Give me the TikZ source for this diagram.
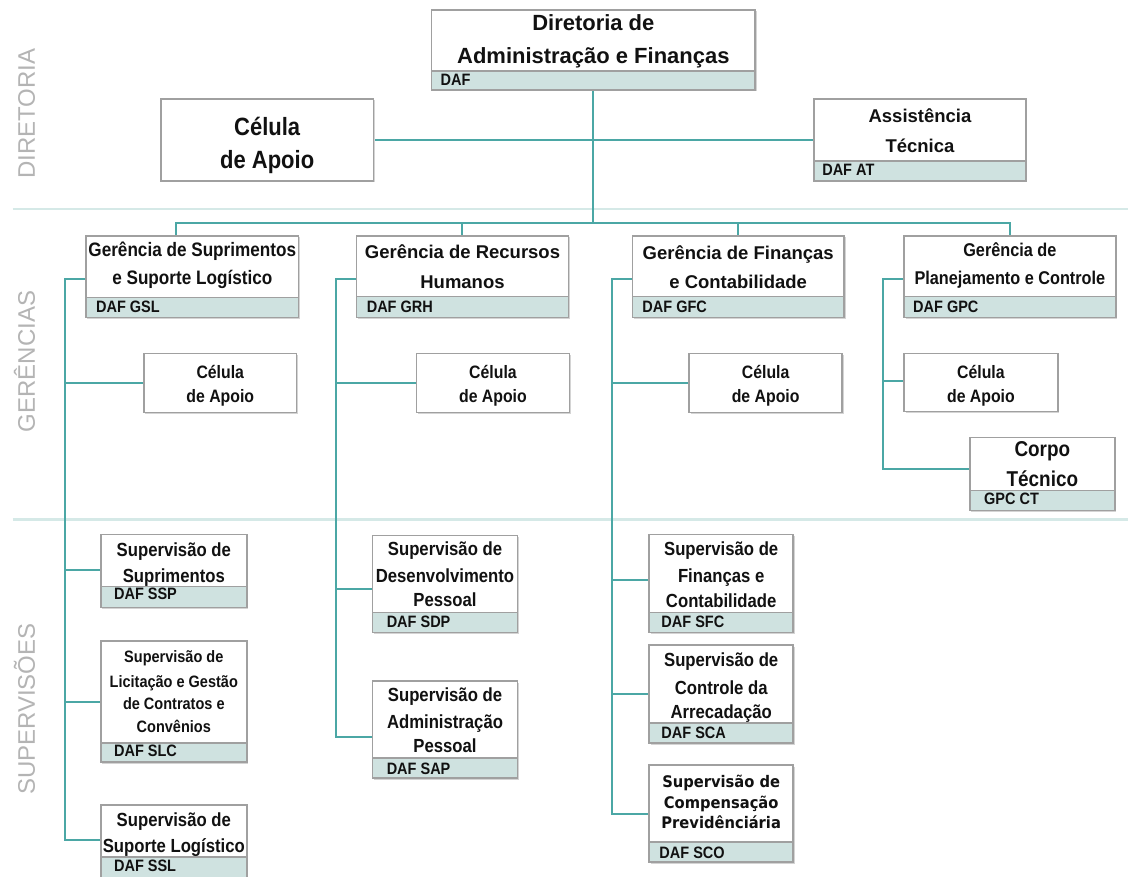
\documentclass[tikz,border=0pt]{standalone}
\usepackage{fontspec}
\setmainfont{Liberation Sans}
\newfontfamily\narfam{Liberation Sans}[FakeStretch=0.88]
\newfontfamily\dvfam{DejaVu Sans}[FakeStretch=0.92]
\usetikzlibrary{calc}
\pgfdeclarelayer{back}
\pgfdeclarelayer{connlayer}
\pgfsetlayers{back,connlayer,main}
\definecolor{conncol}{HTML}{4BA7A5}
\definecolor{divcol}{HTML}{D5E9E7}
\definecolor{bandcol}{HTML}{CFE2E0}
\definecolor{bordcol}{HTML}{A0A0A0}
\definecolor{shadcol}{HTML}{D4D4D4}
\definecolor{sidecol}{HTML}{B4B4B4}
\definecolor{txtcol}{HTML}{111111}
\newcommand\fTitle{\fontsize{22}{26}\selectfont\bfseries}
\newcommand\fNorm{\fontsize{18.5}{22}\selectfont\bfseries}
\newcommand\fNar[1]{\narfam\fontsize{#1}{#1}\selectfont\bfseries}
\newcommand\fDv{\dvfam\fontsize{16}{16}\selectfont\bfseries}
\tikzset{
  conn/.style={draw=conncol, line width=2pt},
  divst/.style={draw=divcol, line width=2.5pt},
  boxst/.style={fill=white, draw=none, inner sep=0pt, outer sep=0pt},
  bordline/.style={draw=bordcol, line width=1.6pt},
  codest/.style={anchor=base west, inner sep=0pt, text=txtcol, font=\fNar{16.5}},
  txt/.style={anchor=base, inner sep=0pt, text=txtcol},
  side/.style={text=sidecol, font=\fontsize{24}{24}\selectfont, inner sep=0pt}
}
\newcommand\obox[5]{%
  \fill[shadcol] (#2+1.5,#3+1.5) rectangle (#4+1.5,#5+1.5);
  \node[boxst, anchor=north west, minimum width={(#4-#2)*1pt}, minimum height={(#5-#3)*1pt}] (#1) at (#2,#3) {};}
\newcommand\oband[6]{%
  \fill[bandcol] (#1.west |- 0,#2) rectangle (#1.south east);
  \draw[bordline] (#1.west |- 0,#2) -- (#1.east |- 0,#2);
  \node[codest] (#3) at (#4,#5) {#6};}
\newcommand\oframe[1]{\draw[bordline] (#1.north west) rectangle (#1.south east);}
\newcommand\tline[5]{\node[txt, font=#4] (#1) at (#2,#3) {#5};}
\begin{document}
\begin{tikzpicture}[x=1pt, y=-1pt]
\begin{pgfonlayer}{back}
\fill[white] (0,0) rectangle (1129,877);
% section dividers
\draw[divst] (13,209) -- (1129,209);
\draw[divst] (13,520) -- (1129,520);
\end{pgfonlayer}
\useasboundingbox (0,0) rectangle (1129,877);

% side labels
\node[side, rotate=90, anchor=base] (lblD) at (35,114) {DIRETORIA};
\node[side, rotate=90, anchor=base] (lblG) at (35,362) {GERÊNCIAS};
\node[side, rotate=90, anchor=base] (lblS) at (35,710) {SUPERVISÕES};

% ---------- boxes ----------
\obox{daf}{432}{10}{756}{90}
\oband{daf}{71}{dafc}{441}{86}{DAF}
\tline{daf1}{594}{31}{\fTitle}{Diretoria de}
\tline{daf2}{594}{64}{\fTitle}{Administração e Finanças}
\oframe{daf}

\obox{celtop}{161}{99}{374}{181}
\tline{celtop1}{267.5}{136}{\fNar{25}}{Célula}
\tline{celtop2}{267.5}{169}{\fNar{25}}{de Apoio}
\oframe{celtop}

\obox{at}{815}{99}{1027}{181}
\oband{at}{161}{atc}{823}{176}{DAF AT}
\tline{at1}{921}{123}{\fNorm}{Assistência}
\tline{at2}{921}{153}{\fNorm}{Técnica}
\oframe{at}

\obox{gsl}{86}{236}{299}{318}
\oband{gsl}{298}{gslc}{96}{313}{DAF GSL}
\tline{gsl1}{192.5}{257}{\fNar{19.5}}{Gerência de Suprimentos}
\tline{gsl2}{192.5}{285}{\fNar{19.5}}{e Suporte Logístico}
\oframe{gsl}

\obox{grh}{357}{236}{569}{318}
\oband{grh}{297}{grhc}{367}{313}{DAF GRH}
\tline{grh1}{463}{259}{\fNorm}{Gerência de Recursos}
\tline{grh2}{463}{289}{\fNorm}{Humanos}
\oframe{grh}

\obox{gfc}{633}{236}{845}{318}
\oband{gfc}{297}{gfcc}{643}{313}{DAF GFC}
\tline{gfc1}{739}{260}{\fNorm}{Gerência de Finanças}
\tline{gfc2}{739}{289}{\fNorm}{e Contabilidade}
\oframe{gfc}

\obox{gpc}{905}{236}{1117}{318}
\oband{gpc}{297}{gpcc}{914}{313}{DAF GPC}
\tline{gpc1}{1011}{257}{\fNar{18.5}}{Gerência de}
\tline{gpc2}{1011}{285}{\fNar{18.5}}{Planejamento e Controle}
\oframe{gpc}

\obox{gslcel}{144}{354}{297}{413}
\tline{gslcel1}{220.5}{379}{\fNar{18}}{Célula}
\tline{gslcel2}{220.5}{403}{\fNar{18}}{de Apoio}
\oframe{gslcel}

\obox{grhcel}{417}{354}{570}{413}
\tline{grhcel1}{493.5}{379}{\fNar{18}}{Célula}
\tline{grhcel2}{493.5}{403}{\fNar{18}}{de Apoio}
\oframe{grhcel}

\obox{gfccel}{690}{354}{843}{413}
\tline{gfccel1}{766.5}{379}{\fNar{18}}{Célula}
\tline{gfccel2}{766.5}{403}{\fNar{18}}{de Apoio}
\oframe{gfccel}

\obox{gpccel}{905}{354}{1059}{412}
\tline{gpccel1}{982}{379}{\fNar{18}}{Célula}
\tline{gpccel2}{982}{403}{\fNar{18}}{de Apoio}
\oframe{gpccel}

\obox{corpo}{971}{438}{1116}{511}
\oband{corpo}{491}{corpoc}{985}{505}{GPC CT}
\tline{corpo1}{1043.5}{457}{\fNar{21.5}}{Corpo}
\tline{corpo2}{1043.5}{487}{\fNar{21.5}}{Técnico}
\oframe{corpo}

\obox{ssp}{101}{535}{247}{608}
\oband{ssp}{587}{sspc}{114}{600}{DAF SSP}
\tline{ssp1}{174}{557}{\fNar{19}}{Supervisão de}
\tline{ssp2}{174}{583}{\fNar{19}}{Suprimentos}
\oframe{ssp}

\obox{slc}{101}{642}{247}{763}
\oband{slc}{744}{slcc}{114}{757}{DAF SLC}
\tline{slc1}{174}{663}{\fNar{16.5}}{Supervisão de}
\tline{slc2}{174}{688}{\fNar{16.5}}{Licitação e Gestão}
\tline{slc3}{174}{710}{\fNar{16.5}}{de Contratos e}
\tline{slc4}{174}{733}{\fNar{16.5}}{Convênios}
\oframe{slc}

\obox{ssl}{101}{806}{247}{880}
\oband{ssl}{858}{sslc}{114}{872}{DAF SSL}
\tline{ssl1}{174}{827}{\fNar{19}}{Supervisão de}
\tline{ssl2}{174}{853}{\fNar{19}}{Suporte Logístico}
\oframe{ssl}

\obox{sdp}{373}{536}{518}{633}
\oband{sdp}{613}{sdpc}{387}{628}{DAF SDP}
\tline{sdp1}{445.5}{556}{\fNar{19}}{Supervisão de}
\tline{sdp2}{445.5}{583}{\fNar{19}}{Desenvolvimento}
\tline{sdp3}{445.5}{607}{\fNar{19}}{Pessoal}
\oframe{sdp}

\obox{sap}{373}{682}{518}{779}
\oband{sap}{759}{sapc}{387}{775}{DAF SAP}
\tline{sap1}{445.5}{702}{\fNar{19}}{Supervisão de}
\tline{sap2}{445.5}{729}{\fNar{19}}{Administração}
\tline{sap3}{445.5}{753}{\fNar{19}}{Pessoal}
\oframe{sap}

\obox{sfc}{650}{535}{794}{633}
\oband{sfc}{613}{sfcc}{662}{628}{DAF SFC}
\tline{sfc1}{722}{556}{\fNar{19}}{Supervisão de}
\tline{sfc2}{722}{583}{\fNar{19}}{Finanças e}
\tline{sfc3}{722}{608}{\fNar{19}}{Contabilidade}
\oframe{sfc}

\obox{sca}{650}{646}{794}{744}
\oband{sca}{724}{scac}{662}{739}{DAF SCA}
\tline{sca1}{722}{667}{\fNar{19}}{Supervisão de}
\tline{sca2}{722}{695}{\fNar{19}}{Controle da}
\tline{sca3}{722}{719}{\fNar{19}}{Arrecadação}
\oframe{sca}

\obox{sco}{650}{766}{794}{863}
\oband{sco}{843}{scoc}{660}{859}{DAF SCO}
\tline{sco1}{722}{788}{\fDv}{Supervisão de}
\tline{sco2}{722}{809}{\fDv}{Compensação}
\tline{sco3}{722}{829}{\fDv}{Previdênciária}
\oframe{sco}

% ---------- connectors (drawn on a layer behind the boxes) ----------
\coordinate (busL) at (176,223);
\coordinate (gslsp) at (65,0);
\coordinate (grhsp) at (336,0);
\coordinate (gfcsp) at (613,0);
\coordinate (gpcsp) at (884,0);
\begin{pgfonlayer}{connlayer}
% direction level
\draw[conn] (daf.south) -- (daf.south |- busL);
\draw[conn] (celtop.east) -- (at.west);
% bus to managements
\draw[conn] (busL |- gsl.north) -- (busL) -| (gpc.north);
\draw[conn] (grh.north) -- (grh.north |- busL);
\draw[conn] (gfc.north) -- (gfc.north |- busL);
% GSL spine
\draw[conn] (gsl.west |- 0,279) -| (gslsp |- 0,841) -- (ssl.west |- 0,841);
\draw[conn] (gslsp |- gslcel.west) -- (gslcel.west);
\draw[conn] (gslsp |- 0,571) -- (ssp.west |- 0,571);
\draw[conn] (gslsp |- slc.west) -- (slc.west);
% GRH spine
\draw[conn] (grh.west |- 0,279) -| (grhsp |- 0,738) -- (sap.west |- 0,738);
\draw[conn] (grhsp |- grhcel.west) -- (grhcel.west);
\draw[conn] (grhsp |- 0,590) -- (sdp.west |- 0,590);
% GFC spine
\draw[conn] (gfc.west |- 0,279) -| (gfcsp |- sco.west) -- (sco.west);
\draw[conn] (gfcsp |- gfccel.west) -- (gfccel.west);
\draw[conn] (gfcsp |- 0,581) -- (sfc.west |- 0,581);
\draw[conn] (gfcsp |- sca.west) -- (sca.west);
% GPC spine
\draw[conn] (gpc.west |- 0,279) -| (gpcsp |- 0,470) -- (corpo.west |- 0,470);
\draw[conn] (gpcsp |- 0,381) -- (gpccel.west |- 0,381);
\end{pgfonlayer}
\end{tikzpicture}
\end{document}
